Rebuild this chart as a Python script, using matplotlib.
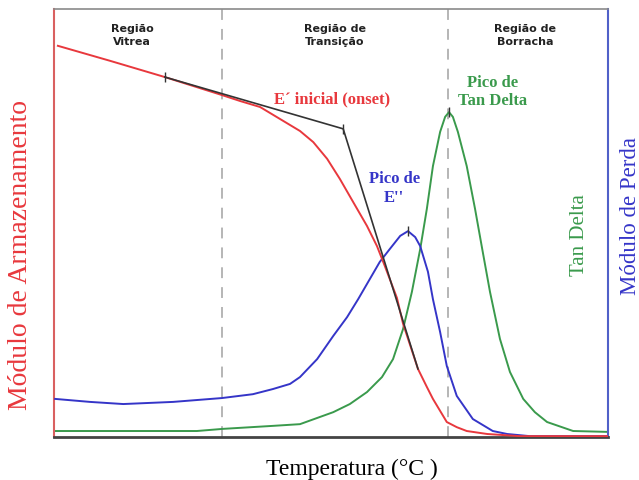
import matplotlib.pyplot as plt

# temperature axis runs 0..100 (arbitrary units), responses 0..100
temp_storage = [0.7, 10.1, 20.0, 30.3, 33.6, 37.2, 40.8, 44.4, 46.8, 49.3, 51.6,
                54.0, 56.5, 58.3, 59.7, 61.9, 63.0, 65.7, 67.3, 68.4, 70.9, 72.7,
                74.5, 78.2, 84.1, 100.0]
storage = [91.4, 87.9, 84.1, 79.9, 78.5, 77.1, 74.3, 71.5, 68.9, 65.0, 60.3,
           54.9, 49.3, 44.6, 40.0, 32.5, 26.5, 15.9, 11.7, 8.9, 3.5, 2.3,
           1.4, 0.7, 0.2, 0.2]

temp_loss = [0.2, 6.5, 12.5, 21.5, 30.3, 35.9, 39.5, 42.6, 44.4, 47.5, 50.4,
             52.9, 54.9, 58.8, 60.6, 62.5, 63.9, 65.2, 66.1, 67.5, 68.4, 69.7,
             70.9, 72.7, 75.6, 79.2, 81.8, 85.9, 100.0]
loss = [8.9, 8.2, 7.7, 8.2, 9.1, 10.0, 11.2, 12.4, 14.0, 18.2, 23.6,
        28.0, 32.2, 40.9, 43.9, 47.0, 48.1, 46.7, 44.6, 38.6, 32.2, 24.5,
        16.6, 9.6, 4.2, 1.4, 0.7, 0.2, 0.2]

temp_tan = [0.2, 25.8, 30.5, 39.5, 44.4, 50.4, 53.4, 56.5, 59.2, 61.2, 63.0,
            64.6, 66.1, 67.3, 68.4, 69.7, 70.6, 71.3, 72.0, 72.9, 74.5, 76.0,
            77.3, 78.7, 80.5, 82.3, 84.7, 86.8, 89.0, 93.7, 99.8]
tan_delta = [1.4, 1.4, 1.9, 2.6, 3.0, 5.8, 7.7, 10.5, 14.0, 18.2, 25.2,
             33.9, 43.9, 53.3, 63.3, 71.3, 74.8, 75.9, 74.8, 71.3, 63.3, 53.3,
             43.9, 33.9, 22.9, 15.2, 8.9, 5.8, 3.5, 1.4, 1.2]

# tangent construction for the onset
onset_x = [20.0, 52.2, 65.7]
onset_y = [84.1, 72.0, 15.9]

region_bounds = [30.3, 71.1]
region_names = ["Região\nVitrea", "Região de\nTransição", "Região de\nBorracha"]
region_centers = [14.1, 50.7, 85.0]

red = "#e8383d"
blue = "#3535c8"
green = "#3a9a4c"

fig = plt.figure(figsize=(6.39, 4.81), dpi=100)
ax = fig.add_axes([54 / 639, 43 / 481, 554 / 639, 428 / 481])

for xb in region_bounds:
    ax.axvline(xb, color="#b0b0b0", lw=1.3, ls=(0, (6, 5)), zorder=1)

ax.plot(temp_tan, tan_delta, color=green, lw=1.4, zorder=2)
ax.plot(temp_loss, loss, color=blue, lw=1.4, zorder=3)
ax.plot(temp_storage, storage, color=red, lw=1.4, zorder=3)
ax.plot(onset_x, onset_y, color="#333333", lw=1.2, zorder=4)

# small tick marks on the construction points and peaks
ax.plot(onset_x[:2], onset_y[:2], ls="none", marker="|", ms=7, color="#333333", zorder=5)
ax.plot([63.9], [48.1], ls="none", marker="|", ms=7, color="#333333", zorder=5)
ax.plot([71.3], [75.9], ls="none", marker="|", ms=7, color="#333333", zorder=5)

for name, xc in zip(region_names, region_centers):
    ax.text(xc, 94.0, name, ha="center", va="center", fontsize=8,
            fontweight="bold", color="#222222", family="DejaVu Sans",
            linespacing=1.45)

serif = "Liberation Serif"
ax.text(50.2, 79.0, "E´ inicial (onset)", ha="center", va="center",
        fontsize=12, fontweight="bold", color=red, family=serif)
ax.text(61.4, 58.3, "Pico de\nE''", ha="center", va="center",
        fontsize=12, fontweight="bold", color=blue, family=serif)
ax.text(79.1, 80.8, "Pico de\nTan Delta", ha="center", va="center",
        fontsize=12, fontweight="bold", color=green, family=serif)

ax.set_xlim(0, 100)
ax.set_ylim(0, 100)
ax.set_xticks([])
ax.set_yticks([])

ax.spines["left"].set_color("#d96060")
ax.spines["left"].set_linewidth(1.5)
ax.spines["right"].set_color("#5060c8")
ax.spines["right"].set_linewidth(1.5)
ax.spines["top"].set_color("#8a8a8a")
ax.spines["top"].set_linewidth(1.2)
ax.spines["bottom"].set_color("#444444")
ax.spines["bottom"].set_linewidth(2)

ax.set_xlabel("Temperatura (°C )", family=serif, fontsize=17)
ax.xaxis.set_label_coords(0.538, -0.048, transform=ax.transAxes)
ax.xaxis.label.set_va("top")
fig.text(21 / 639, 0.47, "Módulo de Armazenamento", rotation=90, ha="center",
         va="center", family=serif, fontsize=20, color=red)
ax.text(0.949, 0.474, "Tan Delta", rotation=90, ha="center", va="center",
        transform=ax.transAxes, family=serif, fontsize=15, color=green)
fig.text(630 / 639, 0.55, "Módulo de Perda", rotation=90, ha="center",
         va="center", family=serif, fontsize=16.5, color=blue)

fig.savefig("out.png", dpi=100)
